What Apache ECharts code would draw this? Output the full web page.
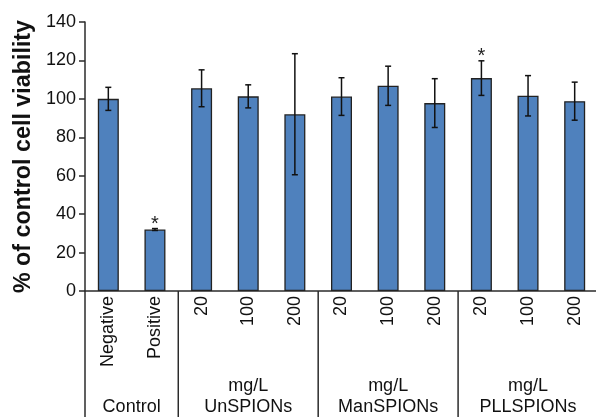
<!DOCTYPE html>
<html>
<head>
<meta charset="utf-8">
<script src="https://cdn.jsdelivr.net/npm/echarts@6/dist/echarts.min.js"></script>
<style>
html,body{margin:0;padding:0;background:#fff;}
#chart{width:596px;height:417px;}
</style>
</head>
<body>
<div id="chart"></div>
<script>
// ---- data ----
var categories = ["Negative","Positive","20","100","200","20","100","200","20","100","200"];
var means      = [100, 32, 105.5, 101.3, 92, 101.2, 106.8, 97.8, 110.8, 101.6, 98.8];
var errors     = [6, 0.5, 9.6, 6, 31.5, 9.8, 10.2, 12.7, 9, 10.5, 9.9];
var significant= [false, true, false, false, false, false, false, false, true, false, false];
var groupNames = ["Control","UnSPIONs","ManSPIONs","PLLSPIONs"];
var groupUnits = ["","mg/L","mg/L","mg/L"];
var groupStart = [0, 2, 5, 8];
var groupEnd   = [1, 4, 7, 10];
var yTicks     = [0, 20, 40, 60, 80, 100, 120, 140];

var FONT = "'Liberation Sans', Arial, sans-serif";
var AXIS = "#2b2b2b";

var errData = means.map(function(m, i){ return [i, m - errors[i], m + errors[i], significant[i] ? 1 : 0]; });
var groupData = groupNames.map(function(n, i){ return [groupStart[i], groupEnd[i], i]; });

var chart = echarts.init(document.getElementById('chart'), null, {renderer:'canvas'});
chart.setOption({
  animation: false,
  backgroundColor: '#fff',
  grid: {left: 85, top: 22, width: 513, height: 269, containLabel: false, outerBoundsMode: 'none'},
  xAxis: {
    type: 'category',
    data: categories,
    axisLine: {show: true, lineStyle: {color: AXIS, width: 1.5}},
    axisTick: {show: false},
    axisLabel: {rotate: 90, margin: 5, fontSize: 18, color: '#111', fontFamily: FONT, interval: 0}
  },
  yAxis: {
    type: 'value',
    min: yTicks[0], max: yTicks[yTicks.length-1], interval: yTicks[1]-yTicks[0],
    name: '% of control cell viability',
    nameLocation: 'middle',
    nameGap: 46,
    nameTextStyle: {fontSize: 23.3, fontWeight: 'bold', color: '#111', fontFamily: FONT},
    axisLine: {show: true, lineStyle: {color: AXIS, width: 1.5}},
    axisTick: {show: true, inside: false, length: 6, lineStyle: {color: AXIS, width: 1.5}},
    axisLabel: {margin: 9, fontSize: 18, color: '#111', fontFamily: FONT},
    splitLine: {show: false}
  },
  series: [
    {
      type: 'bar',
      data: means,
      barWidth: 21,
      itemStyle: {color: '#4F81BD', borderColor: '#222', borderWidth: 1.3},
      z: 2
    },
    {
      type: 'custom',
      data: errData,
      clip: false,
      z: 5,
      encode: {x: 0, y: [1, 2]},
      renderItem: function(params, api){
        var x = api.coord([api.value(0), 0])[0];
        var lo = api.coord([api.value(0), api.value(1)])[1];
        var hi = api.coord([api.value(0), api.value(2)])[1];
        var cap = 3;
        var st = {stroke: '#111', lineWidth: 1.5};
        var children = [
          {type:'line', shape:{x1:x, y1:lo, x2:x, y2:hi}, style: st},
          {type:'line', shape:{x1:x-cap, y1:lo, x2:x+cap, y2:lo}, style: st},
          {type:'line', shape:{x1:x-cap, y1:hi, x2:x+cap, y2:hi}, style: st}
        ];
        if (api.value(3)) {
          children.push({type:'text', style:{text:'*', x:x, y:hi - 4, align:'center', verticalAlign:'middle', font: '20px ' + FONT, fill:'#222'}});
        }
        return {type:'group', children: children};
      }
    },
    {
      type: 'custom',
      data: groupData,
      clip: false,
      silent: true,
      z: 6,
      encode: {x: [0, 1]},
      renderItem: function(params, api){
        var band = api.size([1, 0])[0];
        var x0 = api.coord([api.value(0), 0])[0] - band/2;
        var x1 = api.coord([api.value(1), 0])[0] + band/2;
        var yAxisPix = api.coord([0, 0])[1];
        var H = api.getHeight();
        var gi = api.value(2);
        var txt = groupUnits[gi] ? groupUnits[gi] + '\n' + groupNames[gi] : groupNames[gi];
        return {type:'group', children:[
          {type:'line', shape:{x1:x0, y1:yAxisPix, x2:x0, y2:H}, style:{stroke: AXIS, lineWidth: 1.5}},
          {type:'text', style:{text: txt, x:(x0+x1)/2, y:H + 1, align:'center', verticalAlign:'bottom', font:'18px ' + FONT, lineHeight: 21, fill:'#111'}}
        ]};
      }
    }
  ]
});
</script>
</body>
</html>
